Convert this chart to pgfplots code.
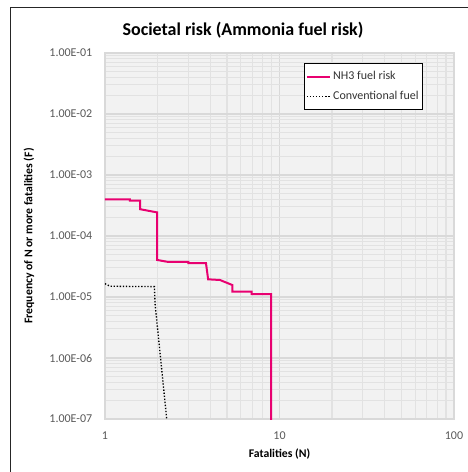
\documentclass[border=0pt]{standalone}
\usepackage{pgfplots}
\pgfplotsset{compat=1.18}
\usepackage{fontspec}
\setmainfont{Carlito}
\definecolor{nh3}{RGB}{232,0,112}
\definecolor{tickgray}{RGB}{89,89,89}
\definecolor{majgrid}{RGB}{217,217,217}
\definecolor{mingrid}{RGB}{226,226,226}
\definecolor{plotbg}{RGB}{242,242,242}
\begin{document}
\begin{tikzpicture}[x=0.75pt,y=0.75pt]
\useasboundingbox (0,0) rectangle (468,472);
\fill[white] (0,0) rectangle (468,472);
\draw[black!85,line width=0.75pt] (10,-20) -- (10,464) -- (490,464);
\node[font=\bfseries\fontsize{13.5}{15}\selectfont] at (243,442) {Societal risk (Ammonia fuel risk)};
\begin{axis}[
  at={(78.75pt,39.75pt)}, anchor=south west,
  scale only axis, width=261.75pt, height=274.5pt,
  xmode=log, ymode=log,
  xmin=1, xmax=100, ymin=1e-7, ymax=1e-1,
  xtick={1,10,100}, xticklabels={1,10,100},
  ytick={1e-7,1e-6,1e-5,1e-4,1e-3,1e-2,1e-1},
  yticklabels={1.00E-07,1.00E-06,1.00E-05,1.00E-04,1.00E-03,1.00E-02,1.00E-01},
  minor xtick={2,3,4,5,6,7,8,9,20,30,40,50,60,70,80,90},
  minor ytick={2e-7,3e-7,4e-7,5e-7,6e-7,7e-7,8e-7,9e-7,2e-6,3e-6,4e-6,5e-6,6e-6,7e-6,8e-6,9e-6,2e-5,3e-5,4e-5,5e-5,6e-5,7e-5,8e-5,9e-5,2e-4,3e-4,4e-4,5e-4,6e-4,7e-4,8e-4,9e-4,2e-3,3e-3,4e-3,5e-3,6e-3,7e-3,8e-3,9e-3,2e-2,3e-2,4e-2,5e-2,6e-2,7e-2,8e-2,9e-2},
  grid=both,
  major grid style={majgrid,line width=1.1pt},
  minor grid style={mingrid,line width=0.8pt},
  axis background/.style={fill=plotbg},
  axis line style={majgrid,line width=1.1pt},
  tick style={draw=none},
  ticklabel style={font=\fontsize{9}{10}\selectfont,text=tickgray},
  /pgf/number format/assume math mode=true,
  xticklabel style={yshift=-6pt},
  yticklabel style={xshift=-6pt},
  xlabel={Fatalities (N)},
  ylabel={Frequency of N or more fatalities (F)},
  label style={font=\bfseries\fontsize{8.8}{10}\selectfont},
  xlabel style={yshift=0pt},
  ylabel style={yshift=4.5pt},
  legend style={at={(0.570,0.973)},anchor=north west,draw=black,line width=0.75pt,
    font=\fontsize{9}{10}\selectfont,text=black!80,fill=white,
    row sep=3pt,inner xsep=1pt,inner ysep=4pt},
  legend image post style={sharp plot},
  legend cell align=left,
  clip=true,
]
\addplot[nh3,line width=1.5pt] coordinates {
(1,4.0e-4) (1.39,4.0e-4) (1.39,3.8e-4) (1.59,3.8e-4) (1.59,2.75e-4) (1.97,2.45e-4)
(1.99,2.45e-4) (1.99,4.05e-5) (2.31,3.75e-5) (3.0,3.75e-5) (3.0,3.6e-5) (3.79,3.6e-5)
(3.9,1.95e-5) (4.56,1.9e-5) (5.37,1.57e-5) (5.37,1.22e-5) (6.93,1.22e-5) (6.93,1.12e-5)
(8.94,1.12e-5) (8.94,1e-8)
};
\addlegendentry{NH3 fuel risk}
\addplot[black,line width=1pt,dash pattern=on 1pt off 1.3pt] coordinates {
(1,1.65e-5) (1.07,1.5e-5) (1.92,1.48e-5) (1.935,7.9e-6) (2.258,1e-7)
};
\addlegendentry{Conventional fuel}
\end{axis}
\end{tikzpicture}
\end{document}
